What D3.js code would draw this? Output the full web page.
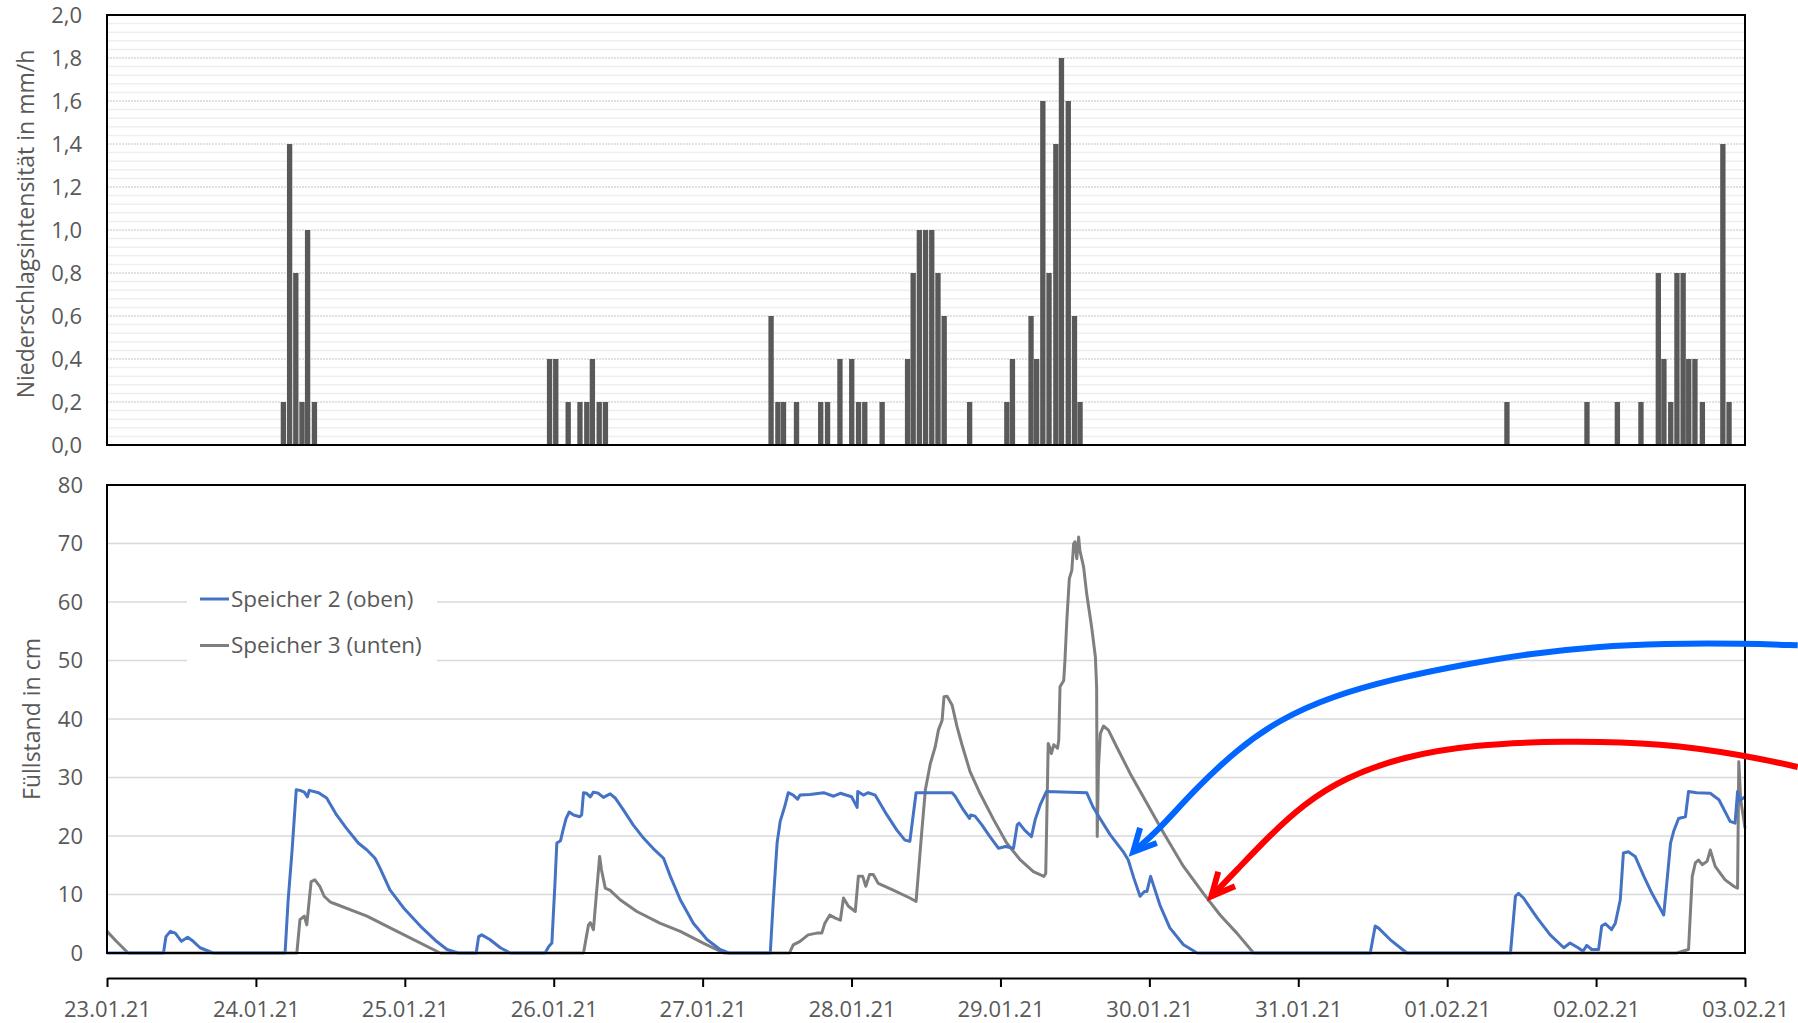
<!DOCTYPE html>
<html>
<head>
  <meta charset="utf-8">
  <script src="https://d3js.org/d3.v7.min.js"></script>
  <style>
    body {
      margin: 0;
      background: #fff;
      font-family: "Open Sans", sans-serif;
    }
    text {
      fill: #595959;
    }
  </style>
</head>
<body>
  <div id="chart"></div>
  <script>
    // time = hours after 23.01.21 00:00
    var startDay = new Date(2021, 0, 23),
        endDay = new Date(2021, 1, 3);

    // hourly rain bars: [hour, mm/h]
    var rain = [
      [28.0, 0.2], [29.0, 1.4], [30.0, 0.8], [31.0, 0.2], [31.9, 1.0], [33.0, 0.2],
      [70.9, 0.4], [71.9, 0.4], [73.9, 0.2], [75.8, 0.2], [76.9, 0.2], [77.8, 0.4], [78.9, 0.2], [79.9, 0.2],
      [106.6, 0.6], [107.7, 0.2], [108.6, 0.2], [110.7, 0.2], [114.6, 0.2], [115.7, 0.2], [117.7, 0.4],
      [119.6, 0.4], [120.7, 0.2], [121.7, 0.2], [124.5, 0.2],
      [128.6, 0.4], [129.5, 0.8], [130.5, 1.0], [131.5, 1.0], [132.5, 1.0], [133.5, 0.8], [134.5, 0.6], [138.6, 0.2],
      [144.6, 0.2], [145.5, 0.4], [148.5, 0.6], [149.4, 0.4], [150.4, 1.6], [151.4, 0.8], [152.5, 1.4],
      [153.4, 1.8], [154.5, 1.6], [155.5, 0.6], [156.4, 0.2],
      [225.2, 0.2], [238.1, 0.2], [243.0, 0.2], [246.8, 0.2], [249.6, 0.8], [250.5, 0.4], [251.6, 0.2],
      [252.6, 0.8], [253.6, 0.8], [254.5, 0.4], [255.5, 0.4], [256.7, 0.2], [260.0, 1.4], [261.0, 0.2]
    ];

    // Speicher 2 (oben): [hour, cm]
    var speicher2 = [
      [0, 0], [9.1, 0], [9.5, 2.8], [10.2, 3.7], [11.0, 3.4], [12.0, 2.0], [13.0, 2.7], [13.9, 2.0], [15.0, 0.9], [17.1, 0],
      [28.7, 0], [29.2, 9.1], [29.8, 17.1], [30.5, 27.9], [31.1, 27.8], [31.8, 27.5], [32.3, 26.7], [32.6, 27.8],
      [34.1, 27.4], [35.4, 26.5], [37.0, 23.6], [38.6, 21.3], [40.5, 18.8], [41.9, 17.6], [43.2, 16.2], [44.0, 14.5],
      [45.6, 10.8], [47.8, 7.7], [50.5, 4.6], [53.1, 2.0], [54.8, 0.6], [56.6, 0],
      [59.5, 0], [59.9, 2.8], [60.4, 3.1], [61.7, 2.3], [63.4, 0.9], [65.0, 0],
      [70.6, 0], [71.2, 1.1], [71.7, 1.7], [72.2, 11.9], [72.5, 18.8], [73.1, 19.2], [73.5, 21.0], [74.0, 23.0],
      [74.5, 24.1], [75.2, 23.6], [76.2, 23.3], [76.5, 23.6], [76.8, 27.4], [77.3, 27.3], [77.9, 26.7], [78.4, 27.5],
      [79.2, 27.3], [80.0, 26.6], [81.1, 27.2], [81.9, 26.5], [83.2, 24.5], [84.8, 21.9], [86.5, 19.6], [88.0, 17.9],
      [89.7, 16.2], [90.8, 13.1], [92.4, 9.1], [94.5, 5.1], [96.7, 2.3], [98.8, 0.6], [100.2, 0],
      [106.9, 0], [107.4, 9.1], [108.0, 18.8], [108.5, 22.5], [109.3, 25.3], [109.8, 27.4], [110.6, 27.0], [111.3, 26.3],
      [111.7, 27.0], [113.3, 27.1], [115.5, 27.4], [117.1, 26.8], [118.2, 27.3], [120.0, 26.7], [120.9, 24.9],
      [121.0, 27.6], [121.9, 27.0], [122.7, 27.4], [123.8, 27.0], [125.7, 23.6], [127.3, 21.0], [128.6, 19.3],
      [129.4, 19.1], [130.4, 27.4], [136.2, 27.4], [136.7, 26.8], [138.0, 24.5], [139.0, 23.0], [139.2, 23.6],
      [139.9, 23.4], [141.0, 21.9], [142.3, 19.9], [143.7, 17.9], [144.8, 18.2], [146.1, 17.9], [146.7, 21.9],
      [147.0, 22.2], [147.9, 21.0], [149.0, 19.9], [149.6, 22.8], [150.4, 25.3], [151.4, 27.6], [157.9, 27.4],
      [158.9, 25.0], [160.1, 22.9], [161.7, 20.2], [163.8, 17.3], [164.6, 15.9], [165.5, 12.8], [166.5, 9.7],
      [167.2, 10.5], [167.6, 10.5], [168.2, 13.1], [169.7, 8.2], [171.3, 4.3], [173.5, 1.4], [175.7, 0],
      [203.6, 0], [204.4, 4.6], [204.9, 4.3], [206.8, 2.3], [209.5, 0],
      [226.2, 0], [227.0, 9.7], [227.5, 10.2], [228.3, 9.4], [230.5, 6.0], [232.6, 3.1], [234.8, 0.9], [235.8, 1.7],
      [237.1, 0.9], [237.9, 0.3], [238.5, 1.3], [239.3, 0.6], [240.4, 0.6], [240.9, 4.6], [241.5, 5.0], [242.5, 4.0],
      [243.1, 5.1], [243.9, 9.1], [244.4, 17.1], [245.2, 17.3], [246.3, 16.5], [247.7, 13.1], [249.0, 10.2],
      [250.9, 6.5], [251.5, 13.1], [252.0, 18.8], [252.5, 20.8], [253.3, 23.0], [254.4, 23.3], [254.9, 27.6],
      [256.2, 27.4], [258.4, 27.3], [259.8, 26.2], [261.6, 22.5], [262.4, 22.2], [262.8, 27.6], [263.1, 26.0], [264.0, 26.7]
    ];

    // Speicher 3 (unten): [hour, cm]
    var speicher3 = [
      [0, 3.7], [1.5, 2.0], [3.4, 0], [30.6, 0], [31.1, 5.7], [31.8, 6.3], [32.2, 4.8], [32.6, 9.1], [32.9, 12.2],
      [33.5, 12.5], [34.3, 11.4], [35.0, 9.7], [35.9, 8.8], [36.5, 8.5], [41.9, 6.3], [46.2, 4.0], [53.7, 0],
      [76.8, 0], [77.6, 4.8], [77.9, 5.2], [78.4, 4.0], [78.8, 9.1], [79.4, 16.5], [79.7, 14.2], [80.3, 11.1],
      [81.1, 10.7], [82.7, 9.1], [85.4, 7.1], [89.1, 5.1], [92.4, 3.7], [96.1, 1.7], [99.4, 0],
      [110.0, 0], [110.6, 1.4], [111.7, 2.0], [113.0, 3.1], [114.4, 3.4], [115.2, 3.4], [115.7, 5.1], [116.5, 6.5],
      [117.3, 6.0], [118.2, 5.6], [118.7, 9.4], [119.5, 8.0], [120.6, 7.1], [121.1, 13.1], [121.8, 13.1],
      [122.3, 11.4], [122.9, 13.4], [123.5, 13.4], [124.3, 11.9], [126.8, 10.7], [129.4, 9.4], [130.4, 8.8],
      [131.3, 20.5], [131.9, 27.9], [132.7, 32.4], [133.5, 35.3], [134.0, 38.1], [134.6, 39.8], [134.9, 43.8],
      [135.4, 43.9], [136.2, 42.4], [137.0, 38.7], [137.8, 35.6], [139.1, 31.0], [140.7, 27.3], [142.9, 22.8],
      [145.0, 18.8], [147.2, 15.9], [149.3, 13.9], [151.0, 13.1], [151.3, 13.6], [151.7, 35.8], [152.0, 35.0],
      [152.2, 34.1], [152.6, 35.6], [153.2, 35.0], [153.4, 36.4], [153.6, 45.5], [154.2, 46.6], [154.4, 50.1],
      [154.7, 56.9], [155.1, 64.0], [155.5, 65.4], [155.8, 70.0], [156.0, 70.3], [156.3, 67.4], [156.6, 71.1],
      [156.8, 68.8], [157.4, 66.0], [157.9, 61.4], [158.7, 55.7], [159.3, 50.6], [159.5, 45.5], [159.6, 19.9],
      [159.8, 31.9], [160.1, 37.5], [160.6, 38.8], [161.4, 38.1], [162.7, 35.3], [164.9, 30.7], [167.6, 25.6],
      [170.3, 20.5], [173.5, 14.8], [176.7, 10.2], [179.4, 6.5], [182.1, 3.4], [184.8, 0],
      [253.0, 0], [254.9, 0.6], [255.5, 13.1], [256.0, 15.4], [256.5, 15.9], [257.1, 15.1], [257.9, 15.7],
      [258.4, 17.6], [259.2, 14.8], [260.8, 12.5], [262.2, 11.4], [262.8, 11.1], [263.0, 32.7], [263.3, 26.2],
      [263.8, 22.8], [264.0, 21.3]
    ];

    var seriesNames = ["Speicher 2 (oben)", "Speicher 3 (unten)"];
    var seriesColors = ["#4472c4", "#7f7f7f"];

    // hand-drawn annotation arrows, in chart units [hour, cm]
    var arrowBlue = [[272.5, 52.6], [264.0, 52.9], [250.8, 52.9], [240.1, 52.4], [229.3, 51.2], [218.6, 49.3],
      [207.9, 47.0], [197.1, 43.8], [189.0, 39.9], [182.1, 34.8], [175.0, 27.6], [169.5, 21.0], [165.4, 17.3]];
    var arrowBlueHead = [[166.5, 21.4], [165.4, 17.3], [169.2, 18.8]];
    var arrowRed = [[272.5, 31.8], [264.0, 33.8], [250.8, 35.9], [234.6, 36.3], [220.0, 35.6], [209.0, 33.6],
      [199.5, 30.0], [192.8, 25.4], [187.4, 20.1], [182.1, 14.2], [178.0, 9.7]];
    var arrowRedHead = [[179.1, 13.9], [178.0, 9.7], [181.8, 11.4]];

    var width = 1798,
        height = 1023,
        left = 107,
        right = 1745;

    var svg = d3.select("#chart").append("svg")
      .attr("width", width)
      .attr("height", height);

    function hr(h) {
      return new Date(startDay.getTime() + h * 3600 * 1000);
    }

    var x = d3.scaleTime().domain([startDay, endDay]).range([left, right]);
    var yRain = d3.scaleLinear().domain([0, 2]).range([445, 15]);
    var yLevel = d3.scaleLinear().domain([0, 80]).range([953, 485]);

    var comma = function(d) { return d3.format(".1f")(d).replace(".", ","); };

    // ---------- top: rain ----------
    var rainG = svg.append("g");

    var minor = d3.range(0, 2.001, 0.04).filter(function(d) { return Math.abs(d / 0.2 - Math.round(d / 0.2)) > 0.01; });
    rainG.selectAll("line.minor")
        .data(minor)
      .enter().append("line")
        .attr("x1", left).attr("x2", right)
        .attr("y1", function(d) { return yRain(d); })
        .attr("y2", function(d) { return yRain(d); })
        .attr("stroke", "#efefef")
        .attr("stroke-width", 1.5);

    rainG.selectAll("line.major")
        .data(d3.range(0.2, 2.01, 0.2))
      .enter().append("line")
        .attr("x1", left).attr("x2", right)
        .attr("y1", function(d) { return yRain(d); })
        .attr("y2", function(d) { return yRain(d); })
        .attr("stroke", "#c4c4c4")
        .attr("stroke-dasharray", "2,1")
        .attr("stroke-width", 1);

    var barW = x(hr(0.86)) - x(hr(0));
    rainG.selectAll("rect.bar")
        .data(rain)
      .enter().append("rect")
        .attr("x", function(d) { return x(hr(d[0])); })
        .attr("y", function(d) { return yRain(d[1]); })
        .attr("width", barW)
        .attr("height", function(d) { return yRain(0) - yRain(d[1]); })
        .attr("fill", "#595959");

    rainG.append("rect")
      .attr("x", left).attr("y", yRain(2))
      .attr("width", right - left).attr("height", yRain(0) - yRain(2))
      .attr("fill", "none").attr("stroke", "#000").attr("stroke-width", 2);

    var rainAxis = rainG.append("g")
      .attr("transform", "translate(" + left + ",0)")
      .call(d3.axisLeft(yRain).tickValues(d3.range(0, 2.01, 0.2)).tickFormat(comma).tickSize(0).tickPadding(25));
    rainAxis.select(".domain").remove();
    rainAxis.selectAll("text").style("font-size", "22px").style("font-family", "Open Sans").attr("fill", "#595959");

    rainG.append("text")
      .attr("transform", "translate(26," + (yRain(1) - 6) + ") rotate(-90)")
      .attr("text-anchor", "middle")
      .attr("dy", "0.35em")
      .style("font-size", "23px")
      .text("Niederschlagsintensität in mm/h");

    // ---------- bottom: level ----------
    var levelG = svg.append("g");

    levelG.selectAll("line.grid")
        .data(d3.range(10, 80, 10))
      .enter().append("line")
        .attr("x1", left).attr("x2", right)
        .attr("y1", function(d) { return yLevel(d); })
        .attr("y2", function(d) { return yLevel(d); })
        .attr("stroke", "#d9d9d9")
        .attr("stroke-width", 1.3);

    var line = d3.line()
      .x(function(d) { return x(hr(d[0])); })
      .y(function(d) { return yLevel(d[1]); });

    [speicher3, speicher2].forEach(function(s, i) {
      levelG.append("path")
        .datum(s)
        .attr("d", line)
        .attr("fill", "none")
        .attr("stroke", seriesColors[1 - i])
        .attr("stroke-width", 3)
        .attr("stroke-linejoin", "round");
    });

    levelG.append("rect")
      .attr("x", left).attr("y", yLevel(80))
      .attr("width", right - left).attr("height", yLevel(0) - yLevel(80))
      .attr("fill", "none").attr("stroke", "#000").attr("stroke-width", 2);

    var levelAxis = levelG.append("g")
      .attr("transform", "translate(" + left + ",0)")
      .call(d3.axisLeft(yLevel).tickValues(d3.range(0, 81, 10)).tickSize(0).tickPadding(24));
    levelAxis.select(".domain").remove();
    levelAxis.selectAll("text").style("font-size", "22px").style("font-family", "Open Sans").attr("fill", "#595959");

    levelG.append("text")
      .attr("transform", "translate(32," + yLevel(40) + ") rotate(-90)")
      .attr("text-anchor", "middle")
      .attr("dy", "0.35em")
      .style("font-size", "23px")
      .text("Füllstand in cm");

    // date axis below
    var dateAxis = svg.append("g")
      .attr("transform", "translate(0,978)")
      .call(d3.axisBottom(x).ticks(d3.timeDay.every(1)).tickFormat(d3.timeFormat("%d.%m.%y"))
        .tickSizeInner(9).tickSizeOuter(0).tickPadding(14));
    dateAxis.select(".domain").attr("stroke", "#000").attr("stroke-width", 2);
    dateAxis.selectAll(".tick line").attr("stroke", "#000").attr("stroke-width", 2);
    dateAxis.selectAll("text").style("font-size", "22px").style("font-family", "Open Sans").attr("fill", "#595959");

    // legend
    var legend = levelG.append("g");
    legend.append("rect")
      .attr("x", 187).attr("y", 576).attr("width", 250).attr("height", 95)
      .attr("fill", "#fff");
    seriesNames.forEach(function(name, i) {
      var ly = 599 + i * 46.5;
      legend.append("line")
        .attr("x1", 200).attr("x2", 229).attr("y1", ly).attr("y2", ly)
        .attr("stroke", seriesColors[i]).attr("stroke-width", 3);
      legend.append("text")
        .attr("x", 231).attr("y", ly).attr("dy", "0.35em")
        .style("font-size", "22.5px")
        .text(name);
    });

    // annotation arrows
    var arrowLine = d3.line()
      .x(function(d) { return x(hr(d[0])); })
      .y(function(d) { return yLevel(d[1]); })
      .curve(d3.curveBasis);
    var headLine = d3.line()
      .x(function(d) { return x(hr(d[0])); })
      .y(function(d) { return yLevel(d[1]); });

    [[arrowBlue, arrowBlueHead, "#0066ff"], [arrowRed, arrowRedHead, "#ff0000"]].forEach(function(a) {
      svg.append("path")
        .attr("d", arrowLine(a[0]))
        .attr("fill", "none")
        .attr("stroke", a[2])
        .attr("stroke-width", 6);
      svg.append("path")
        .attr("d", headLine(a[1]))
        .attr("fill", "none")
        .attr("stroke", a[2])
        .attr("stroke-width", 6)
        .attr("stroke-linejoin", "miter");
    });
  </script>
</body>
</html>
